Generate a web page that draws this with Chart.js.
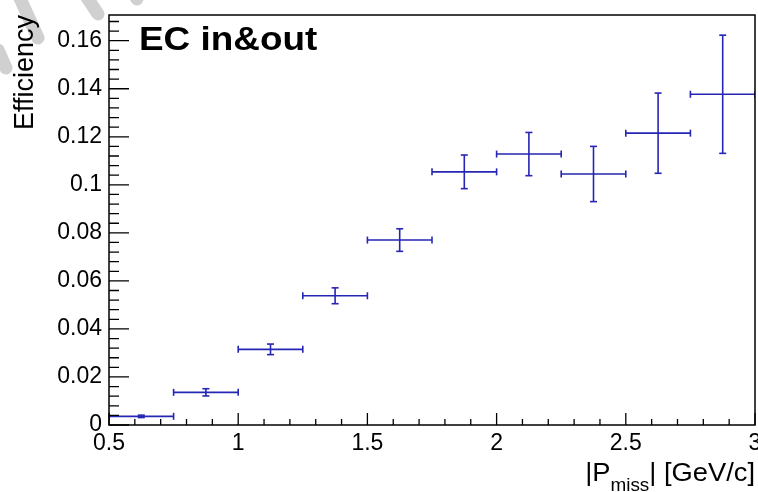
<!DOCTYPE html>
<html>
<head>
<meta charset="utf-8">
<script src="https://cdn.jsdelivr.net/npm/chart.js@4"></script>
<style>
  body { margin: 0; background: #fff; }
  canvas { display: block; }
</style>
</head>
<body>
<canvas id="effChart" width="758" height="492"></canvas>
<script>
// bin centres in |Pmiss| [GeV/c], half bin width, efficiency and its error
var binCenters = [0.625, 0.875, 1.125, 1.375, 1.625, 1.875, 2.125, 2.375, 2.625, 2.875];
var binHalfWidth = [0.125, 0.125, 0.125, 0.125, 0.125, 0.125, 0.125, 0.125, 0.125, 0.125];
var efficiency = [0.0036, 0.0136, 0.0315, 0.0538, 0.0770, 0.1054, 0.1128, 0.1045, 0.1215, 0.1377];
var efficiencyErr = [0.0005, 0.0015, 0.0022, 0.0033, 0.0047, 0.0070, 0.0090, 0.0115, 0.0167, 0.0246];

var xTickValues = [0.5, 1, 1.5, 2, 2.5, 3];
var yTickValues = [0, 0.02, 0.04, 0.06, 0.08, 0.1, 0.12, 0.14, 0.16];

var blue = 'rgb(38, 38, 180)';
var fontFamily = '"Liberation Sans", Arial, sans-serif';

// horizontal and vertical error bar segments, NaN breaks the line between bins
var hBars = [];
var vBars = [];
for (var i = 0; i < binCenters.length; i++) {
    hBars.push({ x: binCenters[i] - binHalfWidth[i], y: efficiency[i] });
    hBars.push({ x: binCenters[i] + binHalfWidth[i], y: efficiency[i] });
    hBars.push({ x: NaN, y: NaN });
    vBars.push({ x: binCenters[i], y: efficiency[i] - efficiencyErr[i] });
    vBars.push({ x: binCenters[i], y: efficiency[i] + efficiencyErr[i] });
    vBars.push({ x: NaN, y: NaN });
}

// faint grey stripes in the top left corner
var watermark = {
    id: 'watermark',
    beforeDraw: function (chart) {
        var c = chart.ctx;
        c.save();
        c.strokeStyle = 'rgb(208, 208, 208)';
        c.lineWidth = 13;
        c.lineCap = 'round';
        c.beginPath();
        c.moveTo(19, -4); c.lineTo(38, 38);
        c.moveTo(86, -4); c.lineTo(98, 14);
        c.moveTo(134, -6); c.lineTo(137, -1);
        c.moveTo(-2, 50); c.lineTo(6, 68);
        c.stroke();
        c.restore();
    }
};

// ROOT style frame, inward ticks and the texts inside/below the pad
var rootFrame = {
    id: 'rootFrame',
    afterDraw: function (chart) {
        var c = chart.ctx;
        var a = chart.chartArea;
        var xs = chart.scales.x;
        var ys = chart.scales.y;
        c.save();
        c.strokeStyle = '#000';
        c.lineWidth = 1.5;
        c.strokeRect(a.left, a.top, a.right - a.left, a.bottom - a.top);

        c.lineWidth = 1.3;
        c.beginPath();
        for (var k = 0; k <= 25; k++) {
            var px = xs.getPixelForValue(0.5 + k * 0.1);
            var len = (k % 5 === 0) ? 12 : 6;
            c.moveTo(px, a.bottom);
            c.lineTo(px, a.bottom - len);
        }
        for (var j = 0; j <= 42; j++) {
            var py = ys.getPixelForValue(j * 0.004);
            if (py < a.top) break;
            var ylen = (j % 5 === 0) ? 20 : 10;
            c.moveTo(a.left, py);
            c.lineTo(a.left + ylen, py);
        }
        c.stroke();

        // pad title
        c.fillStyle = '#000';
        c.textBaseline = 'alphabetic';
        c.save();
        c.translate(139, 50);
        c.scale(1.085, 1);
        c.font = 'bold 34px ' + fontFamily;
        c.fillText('EC in&out', 0, 0);
        c.restore();

        // x axis title with subscript, right aligned to the frame
        var mainFont = '26px ' + fontFamily;
        var subFont = '18px ' + fontFamily;
        var stretch = 1.05;
        c.font = mainFont;
        var w1 = c.measureText('|P').width;
        var w3 = c.measureText('| [GeV/c]').width;
        c.font = subFont;
        var w2 = c.measureText('miss').width;
        var total = (w1 + w2 + w3) * stretch;
        c.save();
        c.translate(a.right - total, 481);
        c.scale(stretch, 1);
        c.font = mainFont;
        c.fillText('|P', 0, 0);
        c.font = subFont;
        c.fillText('miss', w1, 10);
        c.font = mainFont;
        c.fillText('| [GeV/c]', w1 + w2, 0);
        c.restore();
        c.restore();
    }
};

var ctx = document.getElementById('effChart').getContext('2d');
var effChart = new Chart(ctx, {
    type: 'scatter',
    data: {
        datasets: [{
            label: 'bin width',
            data: hBars,
            showLine: true,
            spanGaps: false,
            borderColor: blue,
            borderWidth: 1.6,
            pointStyle: 'line',
            rotation: 90,
            pointRadius: 3.5,
            pointBorderWidth: 1.6,
            pointBorderColor: blue
        }, {
            label: 'efficiency error',
            data: vBars,
            showLine: true,
            spanGaps: false,
            borderColor: blue,
            borderWidth: 1.6,
            pointStyle: 'line',
            rotation: 0,
            pointRadius: 3.5,
            pointBorderWidth: 1.6,
            pointBorderColor: blue
        }]
    },
    options: {
        responsive: false,
        animation: false,
        events: [],
        layout: {
            autoPadding: false,
            padding: { top: 15, right: 3, left: 0, bottom: 0 }
        },
        plugins: {
            legend: { display: false },
            tooltip: { enabled: false }
        },
        scales: {
            x: {
                type: 'linear',
                min: 0.5,
                max: 3,
                afterBuildTicks: function (scale) {
                    scale.ticks = xTickValues.map(function (v) { return { value: v }; });
                },
                afterFit: function (scale) {
                    scale.height = 67;
                    scale.paddingLeft = 0;
                    scale.paddingRight = 0;
                },
                grid: { display: false, drawTicks: false },
                border: { display: false },
                ticks: {
                    autoSkip: false,
                    maxRotation: 0,
                    padding: 5,
                    color: '#000',
                    font: { family: fontFamily, size: 23 },
                    callback: function (v) { return String(+v.toFixed(3)); }
                }
            },
            y: {
                type: 'linear',
                min: 0,
                max: 0.1707,
                afterBuildTicks: function (scale) {
                    scale.ticks = yTickValues.map(function (v) { return { value: v }; });
                },
                afterFit: function (scale) {
                    scale.width = 109;
                    scale.paddingTop = 0;
                    scale.paddingBottom = 0;
                },
                grid: { display: false, drawTicks: false },
                border: { display: false },
                title: {
                    display: true,
                    text: 'Efficiency',
                    align: 'end',
                    color: '#000',
                    padding: { top: 9, bottom: 0 },
                    font: { family: fontFamily, size: 27 }
                },
                ticks: {
                    autoSkip: false,
                    padding: 7,
                    color: '#000',
                    font: { family: fontFamily, size: 23 },
                    callback: function (v) { return String(+v.toFixed(3)); }
                }
            }
        }
    },
    plugins: [watermark, rootFrame]
});
</script>
</body>
</html>
